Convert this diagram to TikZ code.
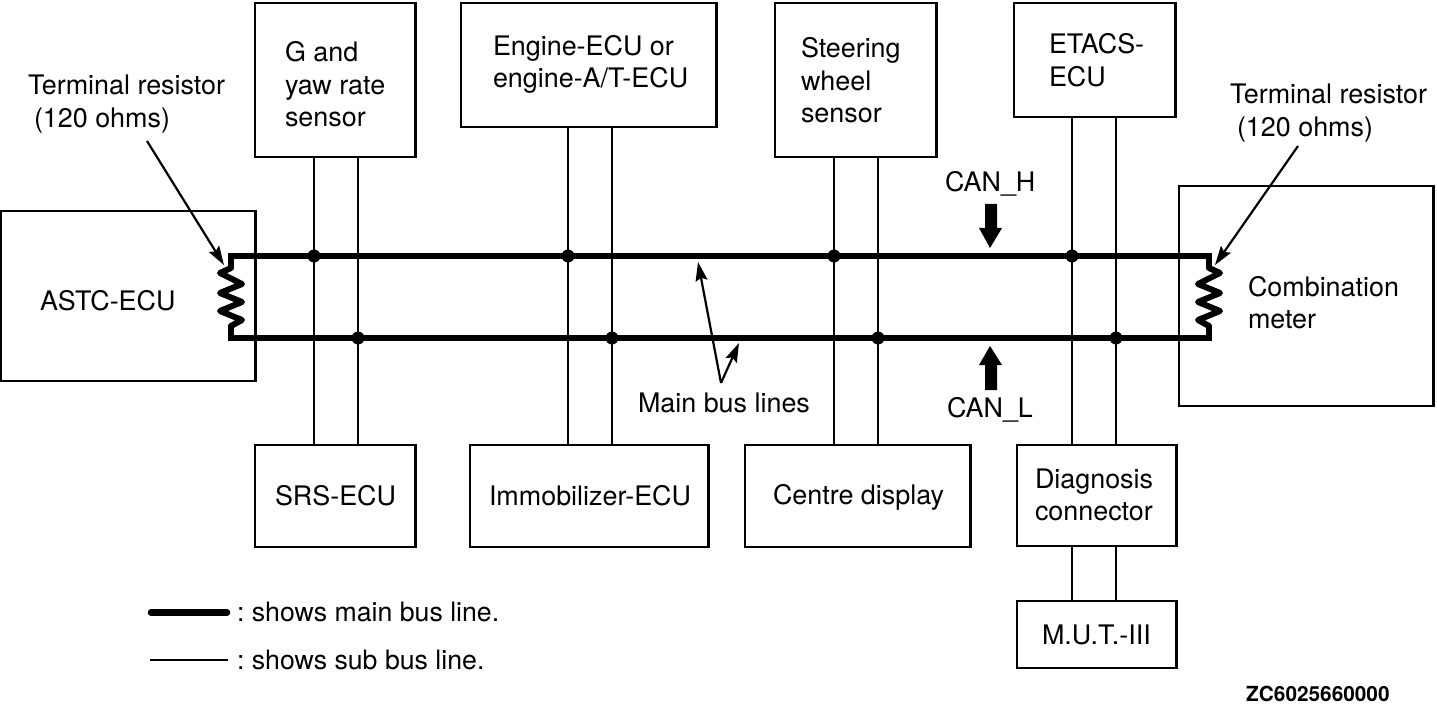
\documentclass[tikz,border=0pt]{standalone}
\usepackage{fontspec}
\setmainfont{TeX Gyre Heros}
\usetikzlibrary{arrows.meta,calc}
\tikzset{
  x=1pt,y=-1pt,
  boxnode/.style={draw=black,line width=2.8pt,inner sep=0pt,outer sep=0pt,fill=none},
  lab/.style={anchor=west,inner sep=0pt,outer sep=0pt,align=left,font=\fontsize{26.9}{32.5}\selectfont},
  mainbus/.style={line width=6pt,line join=miter,line cap=butt},
  resist/.style={line width=6pt,line join=round,line cap=round},
  subbus/.style={line width=2.6pt},
  dot/.style={circle,fill=black,draw=none,minimum size=13pt,inner sep=0pt,outer sep=0pt},
  pointer/.style={line width=2.2pt,-{Stealth[length=19pt,width=12pt,inset=3pt]}},
  blockarrow/.style={fill=black,draw=none},
}
\newcommand{\mybox}[5]{\node[boxnode,minimum width={(#4-#2)*1pt},minimum height={(#5-#3)*1pt}] (#1) at ({(#2+#4)/2},{(#3+#5)/2}) {};}
\begin{document}
\frenchspacing
\begin{tikzpicture}
\useasboundingbox (0,0) rectangle (1437,708);
% boxes
\mybox{g}{255}{3}{415.5}{157}
\mybox{eng}{461}{3}{716.5}{127}
\mybox{steer}{775}{3}{936.5}{157}
\mybox{etacs}{1014}{3}{1175.5}{117}
\mybox{astc}{1}{211}{255.5}{381}
\mybox{comb}{1179}{186}{1433.5}{406}
\mybox{srs}{255}{445}{415.5}{547}
\mybox{imm}{470}{445}{708.5}{547}
\mybox{centre}{745}{445}{970.5}{547}
\mybox{diag}{1017}{445}{1176.5}{546}
\mybox{mut}{1017}{601}{1176.5}{668}
% junctions
\foreach \n/\xx in {h1/314,h2/568,h3/834,h4/1072}{\node[dot] (\n) at (\xx,256) {};}
\foreach \n/\xx in {l1/358,l2/612,l3/878,l4/1116}{\node[dot] (\n) at (\xx,338) {};}
% sub bus
\draw[subbus] (g.south -| h1) -- (srs.north -| h1);
\draw[subbus] (g.south -| l1) -- (srs.north -| l1);
\draw[subbus] (eng.south -| h2) -- (imm.north -| h2);
\draw[subbus] (eng.south -| l2) -- (imm.north -| l2);
\draw[subbus] (steer.south -| h3) -- (centre.north -| h3);
\draw[subbus] (steer.south -| l3) -- (centre.north -| l3);
\draw[subbus] (etacs.south -| h4) -- (diag.north -| h4);
\draw[subbus] (etacs.south -| l4) -- (diag.north -| l4);
\draw[subbus] (diag.south -| h4) -- (mut.north -| h4);
\draw[subbus] (diag.south -| l4) -- (mut.north -| l4);
% main bus with terminal resistors
\coordinate (tl) at (231,256);
\coordinate (bl) at (231,338);
\coordinate (tr) at (1209,256);
\coordinate (br) at (1209,338);
\draw[mainbus] (231,268) -- (tl) -- (tr) -- (1209,268);
\draw[mainbus] (1209,326) -- (br) -- (bl) -- (231,326);
\draw[resist] (1209,268) -- (1220,273) -- (1198,284) -- (1220,293) -- (1198,302) -- (1220,311) -- (1198,320) -- (1209,326);
\draw[resist] (231,268) -- (220,273) -- (242,284) -- (220,293) -- (242,302) -- (220,311) -- (242,320) -- (231,326);
% terminal resistor labels
\node[lab] (tl1) at (28,104) {Terminal resistor\\\hspace*{6pt}(120 ohms)};
\node[lab] (tr1) at (1230,113) {Terminal resistor\\\hspace*{7pt}(120 ohms)};
\coordinate (ptl) at (147,141);
\coordinate (ptr) at (1298,146);
\coordinate (tipl) at (224,265);
\coordinate (tipr) at (1215,265);
\draw[pointer] (ptl) -- (tipl);
\draw[pointer] (ptr) -- (tipr);
% main bus lines pointers
\node[lab] (mbl) at (638,403) {Main bus lines};
\coordinate (apex) at (721,383);
\coordinate (t1) at (698,262);
\coordinate (t2) at (739,343);
\draw[pointer] (apex) -- (t1);
\draw[pointer] (apex) -- (t2);
% CAN arrows
\node[lab] (canh) at (945,184) {CAN\_H};
\node[lab] (canl) at (947,410) {CAN\_L};
\fill[blockarrow] (985,204) -- (997,204) -- (997,228) -- (1002,228) -- (990,248) -- (979,228) -- (985,228) -- cycle;
\fill[blockarrow] (985,390) -- (997,390) -- (997,365) -- (1002,365) -- (990,346) -- (979,365) -- (985,365) -- cycle;
% box labels
\node[lab] at (285,84.5) {G and\\yaw rate\\sensor};
\node[lab] at (493,64.5) {Engine-ECU or\\engine-A/T-ECU};
\node[lab] at (801,80.5) {Steering\\wheel\\sensor};
\node[lab] at (1049,60) {ETACS-\\ECU};
\node[lab] at (40,301) {ASTC-ECU};
\node[lab] at (1248,302.5) {Combination\\meter};
\node[lab] at (275,495.5) {SRS-ECU};
\node[lab] at (489,495.5) {Immobilizer-ECU};
\node[lab] at (773,497.5) {Centre display};
\node[lab] at (1035,495) {Diagnosis\\connector};
\node[lab] at (1042,635) {M.U.T.-III};
% legend
\coordinate (la) at (151,612.5);
\coordinate (lb) at (227,612.5);
\coordinate (lc) at (150,660);
\coordinate (ld) at (228,660);
\draw[line width=6.5pt,line cap=round] (la) -- (lb);
\draw[line width=2.2pt] (lc) -- (ld);
\node[lab,font=\fontsize{26.7}{32.5}\selectfont] (leg1) at (237,612) {: shows main bus line.};
\node[lab,font=\fontsize{26.7}{32.5}\selectfont] (leg2) at (237,660) {: shows sub bus line.};
\node[anchor=west,inner sep=0pt,font=\fontsize{20.8}{24}\selectfont\bfseries] (code) at (1246,694) {ZC6025660000};
\end{tikzpicture}
\end{document}
